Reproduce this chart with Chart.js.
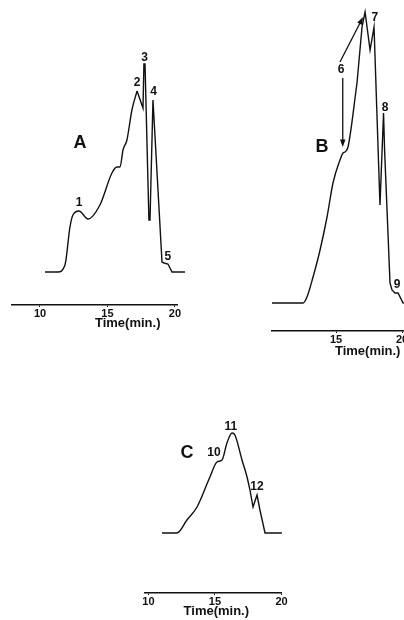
<!DOCTYPE html>
<html>
<head>
<meta charset="utf-8">
<script src="https://cdn.jsdelivr.net/npm/chart.js@4.4.1/dist/chart.umd.min.js"></script>
<style>
  html, body { margin: 0; padding: 0; background: #fff; overflow: hidden; width: 404px; height: 620px; }
  .panel { position: absolute; }
</style>
</head>
<body>
<div class="panel" style="left:0;top:30px;width:200px;height:310px"><canvas id="chartA"></canvas></div>
<div class="panel" style="left:262px;top:0;width:180px;height:370px"><canvas id="chartB"></canvas></div>
<div class="panel" style="left:130px;top:410px;width:170px;height:220px"><canvas id="chartC"></canvas></div>
<script>
// Chromatogram A (time in min, detector signal in arbitrary units)
const aTime   = [10.37, 11.33, 11.85, 12.22, 12.44, 12.89, 13.56, 14.44, 15.33, 15.70, 15.93, 16.15, 16.44, 16.81, 17.19, 17.63, 17.70, 17.78, 18.07, 18.15, 18.37, 19.04, 19.19, 19.48, 19.78, 20.74];
const aSignal = [0, 0, 7, 45, 57, 61, 53, 67, 99, 105, 105, 122, 132, 162, 181, 164, 208, 208, 52, 52, 172, 10, 9, 8, 0, 0];
const aPeaks  = ["1", "2", "3", "4", "5"];
const aPeakT  = [12.89, 17.19, 17.74, 18.41, 19.48];
const aPeakS  = [69, 189, 214, 180, 15];
const aTicks  = [10, 15, 20];

// Chromatogram B
const bTime   = [10.15, 12.50, 12.80, 13.26, 13.79, 14.32, 14.77, 15.30, 15.53, 15.68, 15.91, 16.59, 16.97, 17.20, 17.58, 17.88, 18.33, 18.60, 18.68, 19.09, 19.24, 19.47, 19.70, 20.08, 22.2];
const bSignal = [0, 0, 6, 26, 53, 86, 120, 143, 150, 151, 156, 220, 276, 291, 253, 276, 98, 190, 153, 20, 13, 10, 10, 0, 0];
const bPeaks  = ["6", "7", "8", "9"];
const bPeakT  = [15.38, 17.95, 18.71, 19.62];
const bPeakS  = [233, 285, 195, 18];
const bTicks  = [15, 20];

// Chromatogram C
const cTime   = [11.02, 12.14, 12.89, 13.65, 14.62, 15.15, 15.53, 15.90, 16.28, 16.50, 17.03, 17.41, 17.63, 17.86, 18.16, 18.38, 18.76, 20.03];
const cSignal = [0, 0, 13, 26, 56, 71, 73, 90, 100, 98, 73, 56, 43, 26, 38, 23, 0, 0];
const cPeaks  = ["10", "11", "12"];
const cPeakT  = [14.92, 16.20, 18.16];
const cPeakS  = [80, 106, 46];
const cTicks  = [10, 15, 20];

const ink = "#111";
const FONT = "'Liberation Sans', Arial, sans-serif";

// Draws the panel letter, the peak numbers, the axis caption and arrows
const figureText = {
  id: "figureText",
  afterDraw(chart, args, opts) {
    const { ctx, scales: { x, y } } = chart;
    ctx.save();
    ctx.fillStyle = ink;
    ctx.strokeStyle = ink;
    ctx.textAlign = "center";
    ctx.textBaseline = "middle";

    ctx.font = `bold 18px ${FONT}`;
    ctx.fillText(opts.letter, x.getPixelForValue(opts.letterAt[0]), y.getPixelForValue(opts.letterAt[1]));

    ctx.font = `bold 12px ${FONT}`;
    opts.peaks.forEach((p, i) => {
      ctx.fillText(p, x.getPixelForValue(opts.peakT[i]), y.getPixelForValue(opts.peakS[i]));
    });

    ctx.font = `bold 13px ${FONT}`;
    ctx.fillText("Time(min.)", x.getPixelForValue(opts.titleT), chart.chartArea.bottom + opts.titleDy);

    (opts.arrows || []).forEach(a => {
      const x0 = x.getPixelForValue(a[0]), y0 = y.getPixelForValue(a[1]);
      const x1 = x.getPixelForValue(a[2]), y1 = y.getPixelForValue(a[3]);
      const ang = Math.atan2(y1 - y0, x1 - x0);
      ctx.lineWidth = 1.3;
      ctx.beginPath();
      ctx.moveTo(x0, y0);
      ctx.lineTo(x1 - 5 * Math.cos(ang), y1 - 5 * Math.sin(ang));
      ctx.stroke();
      ctx.beginPath();
      ctx.moveTo(x1, y1);
      ctx.lineTo(x1 - 8 * Math.cos(ang - 0.35), y1 - 8 * Math.sin(ang - 0.35));
      ctx.lineTo(x1 - 8 * Math.cos(ang + 0.35), y1 - 8 * Math.sin(ang + 0.35));
      ctx.closePath();
      ctx.fill();
    });
    ctx.restore();
  }
};

// The broad part of each trace is smoothed, the narrow spikes stay sharp
function trace(points, smooth) {
  return {
    data: points,
    borderColor: ink,
    borderWidth: 1.4,
    pointRadius: 0,
    cubicInterpolationMode: smooth ? "monotone" : "default",
    tension: 0,
    clip: false
  };
}

function makePanel(id, times, signal, ticks, p) {
  const pts = times.map((t, i) => ({ x: t, y: signal[i] }));
  return new Chart(document.getElementById(id), {
    type: "line",
    data: {
      datasets: [
        trace(pts.filter(d => d.x <= p.sharpFrom), true),
        trace(pts.filter(d => d.x >= p.sharpFrom), false)
      ]
    },
    options: {
      responsive: true,
      maintainAspectRatio: false,
      animation: false,
      events: [],
      layout: { padding: p.padding },
      plugins: { legend: { display: false }, tooltip: { enabled: false }, figureText: p.text },
      scales: {
        x: {
          type: "linear",
          min: p.xMin,
          max: p.xMax,
          afterBuildTicks: s => { s.ticks = ticks.map(v => ({ value: v })); },
          afterFit: s => { s.height = 30; },
          grid: { display: true, drawOnChartArea: false, drawTicks: true, tickLength: 2, color: ink },
          border: { display: true, color: ink, width: 1.5 },
          ticks: { color: ink, padding: 0, maxRotation: 0, autoSkip: false, font: { family: FONT, size: 11, weight: "bold" } }
        },
        y: { display: false, min: p.yMin, max: p.yMax }
      }
    },
    plugins: [figureText]
  });
}

makePanel("chartA", aTime, aSignal, aTicks, {
  padding: { left: 12, right: 23, top: 10, bottom: 5 },
  xMin: 7.926, xMax: 20.15, yMin: -33, yMax: 232, sharpFrom: 17.19,
  text: { letter: "A", letterAt: [12.96, 129], peaks: aPeaks, peakT: aPeakT, peakS: aPeakS, titleT: 16.5, titleDy: 18 }
});

makePanel("chartB", bTime, bSignal, bTicks, {
  padding: { left: 10, right: 12, top: 5, bottom: 9 },
  xMin: 10.15, xMax: 22.12, yMin: -28, yMax: 298, sharpFrom: 16.59,
  text: {
    letter: "B", letterAt: [13.94, 156], peaks: bPeaks, peakT: bPeakT, peakS: bPeakS, titleT: 17.4, titleDy: 20,
    arrows: [[15.30, 241, 17.05, 286], [15.51, 225, 15.51, 156]]
  }
});

makePanel("chartC", cTime, cSignal, cTicks, {
  padding: { left: 15, right: 18.5, top: 10, bottom: 7 },
  xMin: 9.74, xMax: 20.0, yMin: -60, yMax: 113, sharpFrom: 17.63,
  text: { letter: "C", letterAt: [12.89, 80], peaks: cPeaks, peakT: cPeakT, peakS: cPeakS, titleT: 15.1, titleDy: 18 }
});
</script>
</body>
</html>
